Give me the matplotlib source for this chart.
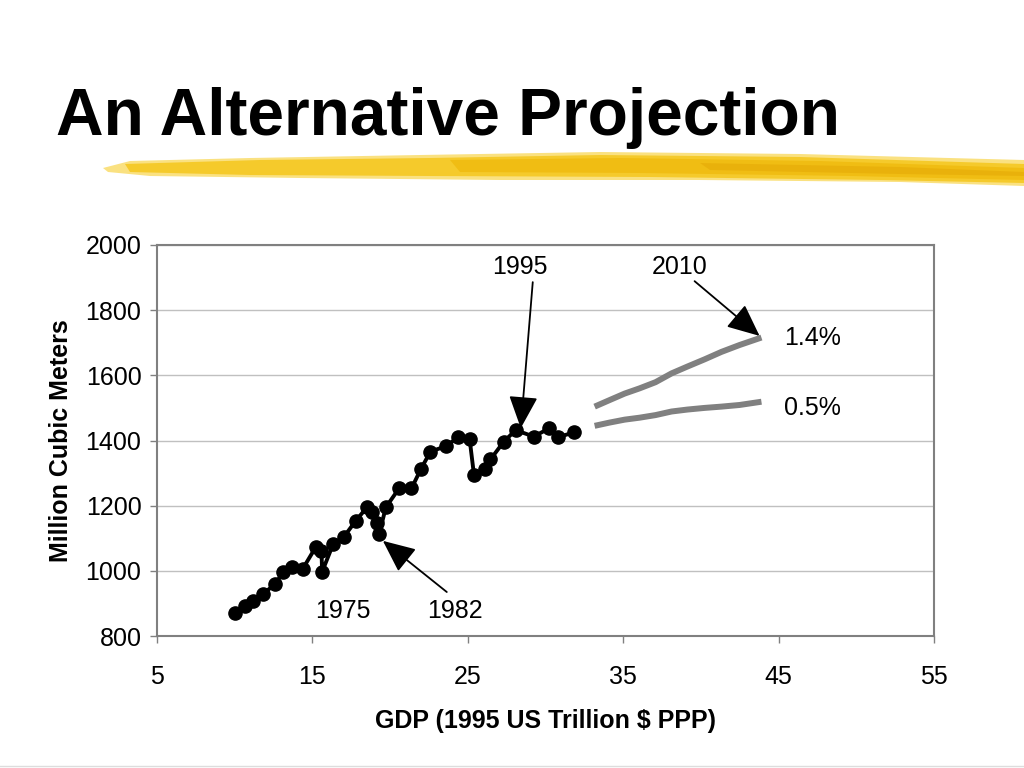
import matplotlib
matplotlib.use("Agg")
import matplotlib.pyplot as plt
from matplotlib.patches import Polygon
from matplotlib import font_manager

# ---------------- data ----------------
years = list(range(1965, 2000))
gdp = [10.03, 10.68, 11.21, 11.85, 12.60, 13.14, 13.68, 14.38, 15.22, 15.60,
       15.64, 16.35, 17.04, 17.81, 18.53, 18.86, 19.18, 19.31, 19.74, 20.59,
       21.39, 21.99, 22.61, 23.64, 24.38, 25.13, 25.41, 26.10, 26.47, 27.32,
       28.09, 29.25, 30.23, 30.81, 31.84]
water = [870, 892, 907, 929, 959, 995, 1013, 1005, 1072, 1062,
         997, 1082, 1104, 1154, 1195, 1180, 1146, 1113, 1195, 1253,
         1253, 1312, 1366, 1383, 1410, 1404, 1294, 1312, 1342, 1396,
         1432, 1412, 1437, 1410, 1425]

proj_gdp = [33.17, 34.13, 35.10, 36.06, 37.09, 38.12, 39.14, 40.24, 41.33, 42.49, 43.90]
proj_14 = [1504, 1524, 1544, 1560, 1579, 1606, 1627, 1649, 1672, 1693, 1716]
proj_05 = [1445, 1455, 1464, 1470, 1478, 1489, 1495, 1500, 1504, 1509, 1519]

x_ticks = [5, 15, 25, 35, 45, 55]
y_ticks = [800, 1000, 1200, 1400, 1600, 1800, 2000]

title = "An Alternative Projection"
x_label = "GDP (1995 US Trillion $ PPP)"
y_label = "Million Cubic Meters"

# ---------------- fonts ----------------
avail = {f.name for f in font_manager.fontManager.ttflist}
base_font = "Liberation Sans" if "Liberation Sans" in avail else "DejaVu Sans"
plt.rcParams["font.family"] = [base_font, "DejaVu Sans"]

fig = plt.figure(figsize=(10.24, 7.68), dpi=100)
fig.patch.set_facecolor("white")

# title
fig.text(56 / 1024, 1 - 135 / 768, title, fontsize=47.4,
         fontweight="bold", va="baseline", ha="left")

# yellow brush stroke decoration
def fpoly(pts, color, alpha):
    p = Polygon([(x / 1024, 1 - y / 768) for x, y in pts], closed=True,
                transform=fig.transFigure, facecolor=color, edgecolor="none", alpha=alpha)
    fig.patches.append(p)

fpoly([(103, 168), (130, 161), (250, 158), (420, 155), (600, 152), (800, 154), (1024, 160),
       (1024, 186), (900, 182), (700, 180), (500, 180), (300, 178), (150, 176), (108, 172)],
      "#FAE07A", 0.95)
fpoly([(125, 164), (260, 160), (430, 158), (600, 155), (800, 157), (1024, 164),
       (1024, 183), (880, 180), (650, 177), (430, 176), (250, 175), (130, 172)], "#F5C927", 0.95)
fpoly([(450, 160), (620, 158), (820, 161), (1024, 168), (1024, 180), (850, 176), (640, 173), (460, 172)],
      "#EDB300", 0.55)
fpoly([(700, 163), (900, 167), (1024, 172), (1024, 176), (900, 174), (710, 170)],
      "#E0A000", 0.4)

# axes
ax = fig.add_axes([156.7 / 1024, 1 - 636 / 768, (934 - 156.7) / 1024, (636 - 245) / 768])
ax.set_xlim(5, 55)
ax.set_ylim(800, 2000)
ax.set_xticks(x_ticks)
ax.set_yticks(y_ticks)
ax.grid(axis="y", color="#c0c0c0", linewidth=1.0)
ax.set_axisbelow(True)
for s in ax.spines.values():
    s.set_color("#808080")
    s.set_linewidth(1.5)
ax.tick_params(axis="both", direction="out", length=5, color="#808080", width=1,
               labelsize=18, colors="black")
ax.tick_params(axis="x", pad=16)
ax.tick_params(axis="y", pad=6)

ax.plot(gdp, water, color="black", linewidth=2.8, marker="o", markersize=9.5, zorder=3)
ax.plot(proj_gdp, proj_14, color="#808080", linewidth=4.3, solid_capstyle="butt", zorder=3)
ax.plot(proj_gdp, proj_05, color="#808080", linewidth=4.3, solid_capstyle="butt", zorder=3)

ax.set_xlabel(x_label, fontsize=18, fontweight="bold", labelpad=14)
ax.set_ylabel(y_label, fontsize=18, fontweight="bold", labelpad=9)

arrow = dict(arrowstyle="-|>,head_length=1.0,head_width=0.45", color="black", lw=1.3,
             shrinkA=0, shrinkB=0, mutation_scale=20)
i95 = years.index(1995)
i82 = years.index(1982)
ax.text(28.35, 1932, "1995", fontsize=18, ha="center", va="center")
ax.annotate("", xy=(gdp[i95] + 0.33, water[i95] + 6), xytext=(29.19, 1886), arrowprops=arrow)
ax.text(38.63, 1932, "2010", fontsize=18, ha="center", va="center")
ax.annotate("", xy=(proj_gdp[-1] - 0.12, proj_14[-1] + 5), xytext=(39.60, 1889), arrowprops=arrow)
ax.text(24.18, 877, "1982", fontsize=18, ha="center", va="center")
ax.annotate("", xy=(gdp[i82] + 0.24, water[i82] - 21), xytext=(23.66, 935), arrowprops=arrow)
ax.text(16.97, 877, "1975", fontsize=18, ha="center", va="center")
ax.text(45.38, proj_14[-1] - 2, "1.4%", fontsize=18, ha="left", va="center")
ax.text(45.38, proj_05[-1] - 18, "0.5%", fontsize=18, ha="left", va="center")

# faint bottom line
fig.add_artist(plt.Line2D([0, 1], [2 / 768, 2 / 768], transform=fig.transFigure,
                          color="#dddddd", linewidth=1))

fig.savefig("out.png", dpi=100, facecolor="white")
